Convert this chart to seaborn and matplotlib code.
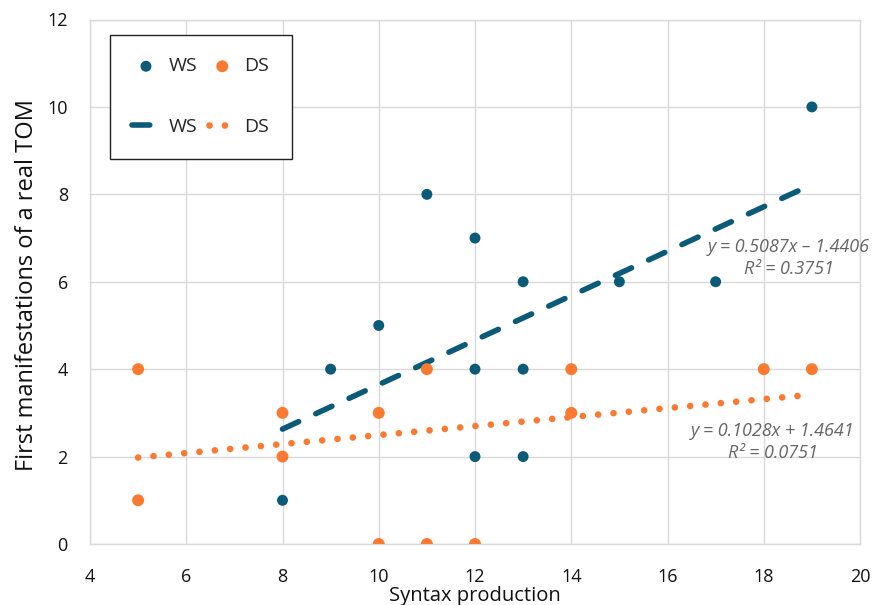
import numpy as np
import pandas as pd
import matplotlib
matplotlib.use("Agg")
import matplotlib.pyplot as plt
import seaborn as sns

# ---- data ----
ws_x = [8, 9, 10, 11, 12, 12, 12, 13, 13, 13, 15, 17, 19]
ws_y = [1, 4, 5, 8, 7, 4, 2, 6, 4, 2, 6, 6, 10]
ds_x = [5, 5, 8, 8, 10, 10, 11, 11, 12, 14, 14, 18, 19]
ds_y = [4, 1, 3, 2, 3, 0, 4, 0, 0, 4, 3, 4, 4]
ws_fit = (0.5087, -1.4406)
ds_fit = (0.1028, 1.4641)
ws_r2 = 0.3751
ds_r2 = 0.0751
ws_range = [8, 19]
ds_range = [5, 19]
x_ticks = [4, 6, 8, 10, 12, 14, 16, 18, 20]
y_ticks = [0, 2, 4, 6, 8, 10, 12]

WS_C = "#0A5A78"
DS_C = "#F97A30"

sns.set_theme(style="white")
plt.rcParams['font.family'] = ['Open Sans', 'DejaVu Sans']

df = pd.DataFrame({
    "x": ws_x + ds_x,
    "y": ws_y + ds_y,
    "group": ["WS"] * len(ws_x) + ["DS"] * len(ds_x),
})

W, H = 881, 605
fig = plt.figure(figsize=(W / 100, H / 100), dpi=100)
ax = fig.add_axes([90 / W, 1 - 544 / H, 770 / W, 524.5 / H])

sns.scatterplot(data=df[df.group == "WS"], x="x", y="y", color=WS_C, s=62,
                edgecolor="none", ax=ax, zorder=3, legend=False)
sns.scatterplot(data=df[df.group == "DS"], x="x", y="y", color=DS_C, s=74,
                edgecolor="none", ax=ax, zorder=3, legend=False)
sc_ws, sc_ds = ax.collections[0], ax.collections[1]

wx = np.array(ws_range, dtype=float)
dx = np.array(ds_range, dtype=float)
line_df_ws = pd.DataFrame({"x": wx, "y": ws_fit[0] * wx + ws_fit[1]})
line_df_ds = pd.DataFrame({"x": dx, "y": ds_fit[0] * dx + ds_fit[1]})
sns.lineplot(data=line_df_ws, x="x", y="y", ax=ax, color=WS_C, lw=4.0, zorder=2)
sns.lineplot(data=line_df_ds, x="x", y="y", ax=ax, color=DS_C, lw=4.8, zorder=2)
ln_ws, ln_ds = ax.lines[0], ax.lines[1]
ln_ws.set_dashes((3.2, 3.4))
ln_ws.set_dash_capstyle("round")
ln_ds.set_dashes((0.01, 2.3))
ln_ds.set_dash_capstyle("round")

ax.set_xlim(4, 20)
ax.set_ylim(0, 12)
ax.set_xticks(x_ticks)
ax.set_yticks(y_ticks)
ax.grid(True, color="#d9d9d9", lw=1)
ax.set_axisbelow(True)
for s in ax.spines.values():
    s.set_color("#d9d9d9")
    s.set_linewidth(1)
ax.tick_params(axis="both", length=0, labelsize=13, colors="#111111")
ax.tick_params(axis="x", pad=17)
ax.tick_params(axis="y", pad=16)

ax.set_xlabel("Syntax production", fontsize=14.5, color="#111111")
ax.set_ylabel("First manifestations of a real TOM", fontsize=17, color="#111111")
ax.xaxis.set_label_coords(0.5, -0.099)
ax.yaxis.set_label_coords(-0.082, 0.494)
ax.xaxis.label.set_va("center")
ax.yaxis.label.set_va("center")

eq_kw = dict(fontsize=13, color="#666666", style="italic", ha="center", va="center",
             transform=ax.transData, clip_on=False)
ax.text(18.52, 6.80, f"y = {ws_fit[0]:.4f}x \u2013 {abs(ws_fit[1]):.4f}", **eq_kw)
ax.text(18.52, 6.29, f"R\u00b2 = {ws_r2:.4f}", **eq_kw)
ax.text(18.19, 2.58, f"y = {ds_fit[0]:.4f}x + {ds_fit[1]:.4f}", **eq_kw)
ax.text(18.19, 2.08, f"R\u00b2 = {ds_r2:.4f}", **eq_kw)

leg = ax.legend([sc_ws, ln_ws, sc_ds, ln_ds], ["WS", "WS", "DS", "DS"], ncol=2,
                loc="upper left", bbox_to_anchor=(20 / 770, 1 - 15.5 / 524.5),
                borderaxespad=0, fontsize=14, labelspacing=2.2,
                handlelength=1.4, handletextpad=0.45, columnspacing=0.6,
                borderpad=1.15, fancybox=False, framealpha=1, edgecolor="#222222")
leg.get_frame().set_linewidth(1.0)

fig.savefig("out.png", dpi=100)
